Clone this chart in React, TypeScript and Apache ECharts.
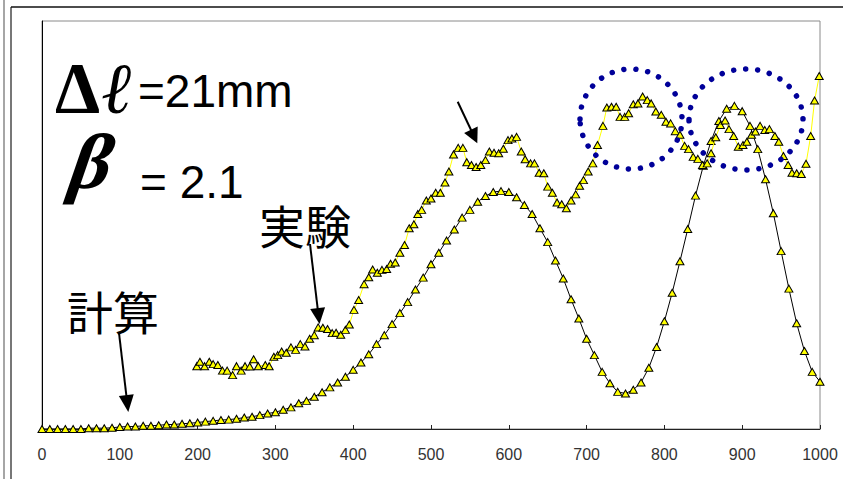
import { useEffect, useRef } from "react";
import * as echarts from "echarts";

const xTicks = [0, 100, 200, 300, 400, 500, 600, 700, 800, 900, 1000];

const calcX = [
  0, 10, 20, 30, 40, 50, 60, 70, 80, 90, 100, 110, 120, 130, 140, 150, 160, 170, 180, 190,
  200, 210, 220, 230, 240, 250, 260, 270, 280, 290, 300, 310, 320, 330, 340, 350, 360, 370, 380, 390,
  400, 410, 420, 430, 440, 450, 460, 470, 480, 490, 500, 510, 520, 530, 540, 550, 560, 570, 580, 590,
  600, 610, 620, 630, 640, 650, 660, 670, 680, 690, 700, 710, 720, 730, 740, 750, 760, 770, 780, 790,
  800, 810, 820, 830, 840, 850, 860, 870, 880, 890, 900, 910, 920, 930, 940, 950, 960, 970, 980, 990, 1000,
];
const calcY = [
  0, 0, 0, 0, 0, 0, 0.2, 0.2, 0.2, 0.3, 0.5, 0.6, 0.6, 0.8, 0.8, 0.9, 1.1, 1.1, 1.3, 1.4,
  1.6, 1.8, 2.0, 2.2, 2.3, 2.5, 2.8, 3.0, 3.4, 3.8, 4.1, 4.7, 5.3, 6.3, 6.9, 7.9, 9.0, 10.2, 11.4, 12.8,
  14.5, 16.3, 18.3, 20.8, 23.0, 25.7, 28.4, 31.1, 34.2, 37.1, 40.4, 43.2, 46.2, 48.9, 51.8, 53.7, 55.7, 57.1, 58.1, 58.3,
  58.1, 56.8, 54.9, 52.7, 49.2, 45.8, 41.3, 36.9, 31.8, 27.1, 22.1, 18.1, 14.0, 11.2, 9.1, 8.7, 9.6, 11.4, 15.0, 20.1,
  26.4, 33.4, 41.1, 49.0, 57.2, 64.5, 70.6, 75.5, 78.5, 79.2, 77.9, 74.3, 68.6, 61.2, 52.9, 43.6, 34.4, 25.9, 19.1, 14.0, 11.6,
];

const expX = [
  199, 203, 209, 215, 220, 226, 232, 238, 245, 250, 256, 261, 267, 272, 278, 287, 292, 298, 303, 308,
  314, 320, 326, 332, 338, 344, 350, 355, 361, 367, 373, 378, 384, 390, 395, 401, 407, 414, 420, 425,
  431, 437, 443, 448, 454, 460, 466, 472, 478, 483, 488, 494, 500, 506, 512, 518, 523, 529, 535, 541,
  546, 552, 558, 564, 570, 575, 581, 587, 593, 599, 604, 610, 616, 621, 628, 633, 639, 645, 650, 656,
  662, 668, 674, 680, 686, 691, 696, 702, 708, 714, 721, 726, 732, 738, 743, 749, 754, 760, 766, 772,
  778, 783, 789, 796, 802, 808, 814, 820, 826, 831, 837, 843, 849, 855, 860, 866, 872, 878, 883, 889,
  895, 901, 906, 912, 917, 923, 929, 935, 942, 947, 953, 959, 964, 970, 976, 982, 988, 993, 999,
];
const expY = [
  15.4, 16.5, 15.4, 16.5, 15.9, 15.7, 14.3, 14.3, 13.2, 15.4, 14.3, 15.4, 15.3, 17.1, 15.4, 15.7, 15.4, 17.7, 18.1, 19.0,
  18.7, 20.0, 19.4, 20.8, 20.2, 22.1, 23.0, 24.9, 24.8, 24.5, 23.5, 23.6, 23.1, 24.3, 25.6, 29.2, 31.6, 35.5, 37.2, 39.1,
  38.3, 39.0, 39.2, 40.5, 40.8, 43.2, 45.1, 49.2, 50.2, 52.7, 53.7, 56.0, 56.5, 57.9, 57.9, 60.4, 63.1, 67.3, 68.9, 68.9,
  65.4, 64.7, 64.2, 64.7, 65.9, 68.0, 67.7, 67.6, 68.7, 70.8, 71.2, 71.6, 68.0, 66.1, 65.1, 65.1, 62.8, 62.7, 59.4, 57.9,
  55.5, 55.1, 54.1, 56.0, 57.5, 59.6, 61.0, 63.1, 65.1, 69.6, 74.3, 78.8, 79.0, 79.0, 76.5, 76.5, 77.4, 79.6, 79.8, 81.5,
  80.6, 79.8, 77.8, 77.0, 75.3, 74.9, 73.0, 72.1, 69.4, 68.6, 66.7, 66.2, 64.7, 65.1, 67.6, 71.5, 74.5, 75.6, 73.5, 71.8,
  69.2, 69.6, 70.4, 72.1, 72.9, 74.3, 73.3, 73.5, 71.8, 70.4, 66.9, 64.7, 62.8, 62.7, 62.5, 65.0, 71.8, 80.5, 86.5,
];

function arrow(x1: number, y1: number, x2: number, y2: number, headLen: number, headW: number) {
  const dx = x2 - x1;
  const dy = y2 - y1;
  const len = Math.sqrt(dx * dx + dy * dy);
  const ux = dx / len;
  const uy = dy / len;
  const bx = x2 - ux * headLen;
  const by = y2 - uy * headLen;
  const px = -uy * headW / 2;
  const py = ux * headW / 2;
  return [
    { type: "line", z: 50, shape: { x1, y1, x2: bx + ux * 2, y2: by + uy * 2 }, style: { stroke: "#000", lineWidth: 2 } },
    {
      type: "polygon",
      z: 50,
      shape: { points: [[x2, y2], [bx + px, by + py], [bx - px, by - py]] },
      style: { fill: "#000" },
    },
  ];
}

export default function App() {
  const ref = useRef<HTMLDivElement>(null);
  useEffect(() => {
    const chart = echarts.init(ref.current!, null, { renderer: "svg" });
    const dotStyle = {
      fill: "none",
      stroke: "#000099",
      lineWidth: 5.5,
      lineDash: [0.01, 12],
      lineCap: "round",
    };
    chart.setOption({
      animation: false,
      backgroundColor: "#ffffff",
      grid: { left: 42, top: 21, right: 23, bottom: 50, show: true, borderColor: "#8a8a8a", borderWidth: 1 },
      xAxis: {
        type: "value",
        min: 0,
        max: 1000,
        interval: 100,
        axisLine: { show: true, lineStyle: { color: "#222", width: 1 } },
        axisTick: { show: true, inside: true, length: 4, lineStyle: { color: "#222" } },
        splitLine: { show: false },
        axisLabel: {
          margin: 17,
          color: "#333",
          fontSize: 16,
          fontFamily: "Liberation Sans",
          formatter: (v: number) => (xTicks.includes(v) ? String(v) : ""),
        },
      },
      yAxis: {
        type: "value",
        min: 0,
        max: 100,
        axisLine: { show: true, lineStyle: { color: "#000", width: 1 } },
        axisTick: { show: false },
        axisLabel: { show: false },
        splitLine: { show: false },
      },
      series: [
        {
          name: "計算",
          type: "line",
          data: calcX.map((x, i) => [x, calcY[i]]),
          symbol: "triangle",
          symbolSize: [8, 7],
          itemStyle: { color: "#ffff00", borderColor: "#000", borderWidth: 1 },
          lineStyle: { color: "#000", width: 1 },
          z: 3,
        },
        {
          name: "実験",
          type: "line",
          data: expX.map((x, i) => [x, expY[i]]),
          symbol: "triangle",
          symbolSize: [8, 7],
          itemStyle: { color: "#ffff00", borderColor: "#000", borderWidth: 1 },
          lineStyle: { color: "#ffff00", width: 1 },
          z: 4,
        },
      ],
      graphic: [
        { type: "line", shape: { x1: 4, y1: 0, x2: 4, y2: 479 }, style: { stroke: "#888", lineWidth: 1.5 } },
        { type: "line", shape: { x1: 11, y1: 7, x2: 11, y2: 479 }, style: { stroke: "#777", lineWidth: 2 } },
        { type: "line", shape: { x1: 11, y1: 7, x2: 843, y2: 7 }, style: { stroke: "#111", lineWidth: 1.5 } },
        { type: "ellipse", z: 60, shape: { cx: 631, cy: 119, rx: 51, ry: 50 }, style: dotStyle },
        { type: "ellipse", z: 60, shape: { cx: 746, cy: 119.5, rx: 57, ry: 50.5 }, style: dotStyle },
        ...arrow(119, 333, 128.3, 412, 17, 15),
        ...arrow(310, 244, 319.5, 324, 16, 15),
        ...arrow(457.7, 101.7, 477.3, 143.3, 15, 15),
        {
          type: "text",
          z: 50,
          style: { text: "Δ", x: 55, y: 88, font: 'bold 72px "Liberation Serif"', fill: "#000", textVerticalAlign: "middle" },
        },
        {
          type: "text",
          z: 50,
          style: { text: "ℓ", x: 101, y: 88, font: 'italic 72px "DejaVu Serif"', fill: "#000", textVerticalAlign: "middle" },
        },
        {
          type: "text",
          z: 50,
          style: { text: "=21mm", x: 138, y: 91, font: '46px "Liberation Sans"', fill: "#000", textVerticalAlign: "middle" },
        },
        {
          type: "text",
          z: 50,
          x: 64,
          y: 187,
          skewX: -0.33,
          style: {
            text: "β",
            x: 0,
            y: -26,
            font: 'bold 78px "Liberation Serif"',
            fill: "#000",
            textVerticalAlign: "middle",
          },
        },
        {
          type: "text",
          z: 50,
          style: { text: "= 2.1", x: 140, y: 182, font: '46px "Liberation Sans"', fill: "#000", textVerticalAlign: "middle" },
        },
        {
          type: "text",
          z: 50,
          style: { text: "実験", x: 259, y: 224, font: '46px "Noto Sans CJK JP"', fill: "#000", textVerticalAlign: "middle" },
        },
        {
          type: "text",
          z: 50,
          style: { text: "計算", x: 67, y: 310, font: '46px "Noto Sans CJK JP"', fill: "#000", textVerticalAlign: "middle" },
        },
      ],
    });
    return () => chart.dispose();
  }, []);
  return (
    <div
      ref={ref}
      style={{ position: "fixed", left: 0, top: 0, width: 843, height: 479, background: "#fff" }}
    />
  );
}
